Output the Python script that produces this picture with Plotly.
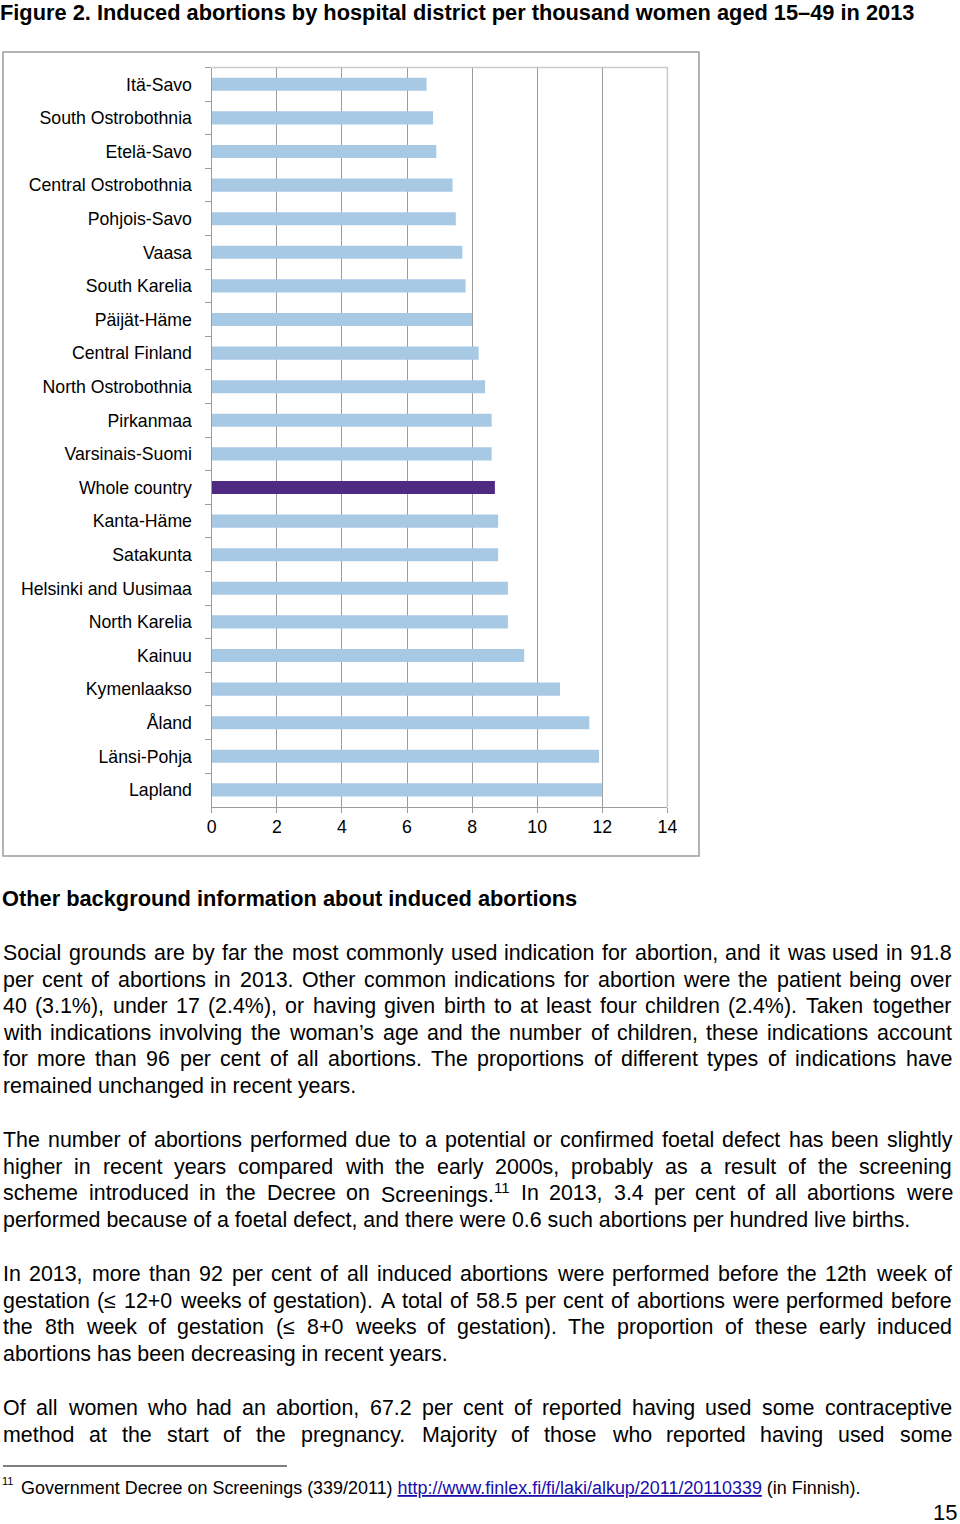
import plotly.graph_objects as go

# ---------------- data ----------------
districts = ["Itä-Savo", "South Ostrobothnia", "Etelä-Savo", "Central Ostrobothnia",
             "Pohjois-Savo", "Vaasa", "South Karelia", "Päijät-Häme", "Central Finland",
             "North Ostrobothnia", "Pirkanmaa", "Varsinais-Suomi", "Whole country",
             "Kanta-Häme", "Satakunta", "Helsinki and Uusimaa", "North Karelia", "Kainuu",
             "Kymenlaakso", "Åland", "Länsi-Pohja", "Lapland"]
rates = [6.6, 6.8, 6.9, 7.4, 7.5, 7.7, 7.8, 8.0, 8.2, 8.4, 8.6, 8.6, 8.7,
         8.8, 8.8, 9.1, 9.1, 9.6, 10.7, 11.6, 11.9, 12.0]
x_ticks = [0, 2, 4, 6, 8, 10, 12, 14]

title_text = "Figure 2. Induced abortions by hospital district per thousand women aged 15–49 in 2013"
heading_text = "Other background information about induced abortions"
para1 = ["Social grounds are by far the most commonly used indication for abortion, and it was used in 91.8",
         "per cent of abortions in 2013. Other common indications for abortion were the patient being over",
         "40 (3.1%), under 17 (2.4%), or having given birth to at least four children (2.4%). Taken together",
         "with indications involving the woman’s age and the number of children, these indications account",
         "for more than 96 per cent of all abortions. The proportions of different types of indications have",
         "remained unchanged in recent years."]
para2 = ["The number of abortions performed due to a potential or confirmed foetal defect has been slightly",
         "higher in recent years compared with the early 2000s, probably as a result of the screening",
         "scheme introduced in the Decree on Screenings.<sup>11</sup> In 2013, 3.4 per cent of all abortions were",
         "performed because of a foetal defect, and there were 0.6 such abortions per hundred live births."]
para3 = ["In 2013, more than 92 per cent of all induced abortions were performed before the 12th week of",
         "gestation (≤ 12+0 weeks of gestation). A total of 58.5 per cent of abortions were performed before",
         "the 8th week of gestation (≤ 8+0 weeks of gestation). The proportion of these early induced",
         "abortions has been decreasing in recent years."]
para4 = ["Of all women who had an abortion, 67.2 per cent of reported having used some contraceptive",
         "method at the start of the pregnancy. Majority of those who reported having used some"]
para4_continues = True
footnote_mark = "11"
footnote_text = "Government Decree on Screenings (339/2011)"
footnote_link = "http://www.finlex.fi/fi/laki/alkup/2011/20110339"
footnote_tail = "(in Finnish)."
page_number = "15"

# ---------------- helpers ----------------
FIG_W, FIG_H = 960, 1524
FONT = "Liberation Sans, Arial, Helvetica, sans-serif"
BAR_COLOR = "#a7c9e4"
HIGHLIGHT = "#4f2a82"
GRID = "#9c9c9c"


def X(px):
    return px / FIG_W


def Y(py):
    return 1 - py / FIG_H


# Helvetica / Arial advance widths (1/1000 em)
_W = {' ': 278, '!': 278, '"': 355, '#': 556, '$': 556, '%': 889, '&': 667, "'": 191,
      '(': 333, ')': 333, '*': 389, '+': 584, ',': 278, '-': 333, '.': 278, '/': 278,
      ':': 278, ';': 278, '<': 584, '=': 584, '>': 584, '?': 556, '@': 1015,
      'A': 667, 'B': 667, 'C': 722, 'D': 722, 'E': 667, 'F': 611, 'G': 778, 'H': 722,
      'I': 278, 'J': 500, 'K': 667, 'L': 556, 'M': 833, 'N': 722, 'O': 778, 'P': 667,
      'Q': 778, 'R': 722, 'S': 667, 'T': 611, 'U': 722, 'V': 667, 'W': 944, 'X': 667,
      'Y': 667, 'Z': 611, 'a': 556, 'b': 556, 'c': 500, 'd': 556, 'e': 556, 'f': 278,
      'g': 556, 'h': 556, 'i': 222, 'j': 222, 'k': 500, 'l': 222, 'm': 833, 'n': 556,
      'o': 556, 'p': 556, 'q': 556, 'r': 333, 's': 500, 't': 278, 'u': 556, 'v': 500,
      'w': 722, 'x': 500, 'y': 500, 'z': 500, '’': 222, '≤': 549, '–': 556}
for d in "0123456789":
    _W[d] = 556


def text_width(s, fs):
    sup = 0.0
    if "<sup>" in s:
        a, rest = s.split("<sup>", 1)
        inner, b = rest.split("</sup>", 1)
        sup = sum(_W.get(c, 556) for c in inner) * 0.7
        s = a + b
    return (sum(_W.get(c, 556) for c in s) + sup) * fs / 1000


annotations = []


def add_text(txt, px, py, size, bold=False, anchor="left", color="black"):
    annotations.append(dict(
        text=("<b>%s</b>" % txt) if bold else txt,
        x=X(px), y=Y(py), xref="paper", yref="paper",
        xanchor=anchor, yanchor="middle", showarrow=False,
        borderpad=0, borderwidth=0,
        font=dict(family=FONT, size=size, color=color)))


LEFT, RIGHT = 3, 952
BODY_FS = 21.4
LINE_STEP = 26.6


def add_paragraph(lines, y0, last_justified=False):
    for i, line in enumerate(lines):
        py = y0 + i * LINE_STEP
        is_last = (i == len(lines) - 1) and not last_justified
        if is_last:
            add_text(line, LEFT, py, BODY_FS)
            continue
        words = line.split(" ")
        widths = [text_width(w, BODY_FS) for w in words]
        gap = (RIGHT - LEFT - sum(widths)) / (len(words) - 1)
        xpos = LEFT
        for w, wd in zip(words, widths):
            add_text(w, xpos, py, BODY_FS)
            xpos += wd + gap


# ---------------- chart ----------------
colors = [HIGHLIGHT if d == "Whole country" else BAR_COLOR for d in districts]

fig = go.Figure(go.Bar(
    x=rates, y=districts, orientation="h",
    marker=dict(color=colors, line=dict(width=0)),
    hoverinfo="x+y"))

plot_l, plot_r, plot_t, plot_b = 211.7, 667.4, 67.5, 806.7

fig.update_layout(
    width=FIG_W, height=FIG_H,
    margin=dict(l=0, r=0, t=0, b=0, pad=0, autoexpand=False),
    paper_bgcolor="white", plot_bgcolor="white",
    showlegend=False, bargap=0.61,
    xaxis=dict(domain=[X(plot_l), X(plot_r)], range=[0, 14], automargin=False,
               tickvals=x_ticks, ticktext=[str(v) for v in x_ticks],
               showgrid=True, gridcolor=GRID, gridwidth=1.4,
               showline=True, linecolor=GRID, linewidth=1.4,
               ticks="outside", ticklen=5, tickcolor=GRID, tickwidth=1.4,
               ticklabelstandoff=-1,
               tickfont=dict(family=FONT, size=17.7, color="black"),
               zeroline=False, fixedrange=True),
    yaxis=dict(domain=[Y(plot_b), Y(plot_t)], automargin=False,
               categoryorder="array", categoryarray=districts,
               autorange="reversed",
               showline=True, linecolor=GRID, linewidth=1.4,
               ticks="outside", tickson="boundaries", ticklen=6,
               tickcolor=GRID, tickwidth=1.4, ticklabelstandoff=15,
               tickfont=dict(family=FONT, size=17.7, color="black"),
               showgrid=False, zeroline=False, fixedrange=True),
    shapes=[
        dict(type="rect", xref="paper", yref="paper",
             x0=X(3), x1=X(699), y0=Y(856), y1=Y(52),
             line=dict(color=GRID, width=1.5), layer="below"),
        dict(type="path", xref="paper", yref="paper",
             path="M %f %f L %f %f L %f %f" % (X(plot_l), Y(plot_t), X(plot_r), Y(plot_t),
                                              X(plot_r), Y(plot_b)),
             line=dict(color="#cacaca", width=1.5), layer="above"),
        dict(type="line", xref="paper", yref="paper",
             x0=X(3), x1=X(287), y0=Y(1466), y1=Y(1466),
             line=dict(color="black", width=1)),
    ],
)

# ---------------- page text ----------------
add_text(title_text, 0, 13, 21.8, bold=True)
add_text(heading_text, 2, 898, 21.8, bold=True)
add_paragraph(para1, 953)
add_paragraph(para2, 1140)
add_paragraph(para3, 1274)
add_paragraph(para4, 1408, last_justified=para4_continues)

add_text(footnote_mark, 2, 1481, 11)
fn_full = footnote_text + " " + footnote_link + " " + footnote_tail
fn_fs = 845 / (text_width(fn_full, 1000) / 1000)
add_text(footnote_text + ' <span style="color:#1a0dab"><u>' + footnote_link + '</u></span> '
         + footnote_tail, 21, 1488, fn_fs)
add_text(page_number, 957, 1512, 22, anchor="right")

fig.update_layout(annotations=annotations)
fig.write_html("out.html",
               config={"displayModeBar": False},
               post_script="document.body.style.margin='0';"
                           "document.body.style.overflow='hidden';"
                           "document.documentElement.style.overflow='hidden';")
